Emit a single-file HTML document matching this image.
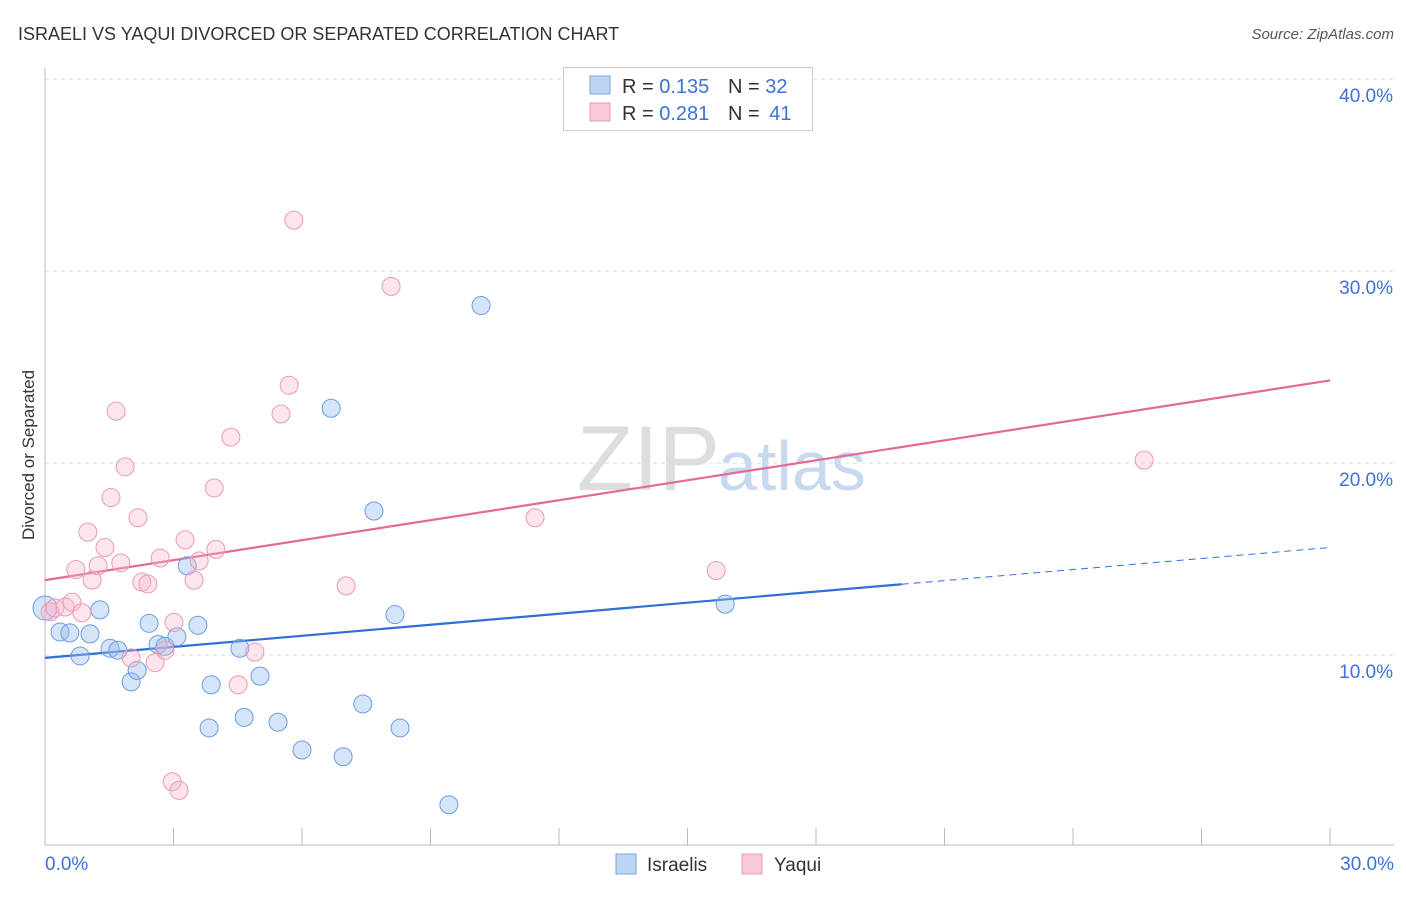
<!DOCTYPE html>
<html><head><meta charset="utf-8"><style>
body{margin:0;background:#fff;font-family:"Liberation Sans",sans-serif}
svg text{font-family:"Liberation Sans",sans-serif}
</style></head><body>
<svg id="c" width="1406" height="892">
<text x="18" y="40" font-size="18" fill="#333">ISRAELI VS YAQUI DIVORCED OR SEPARATED CORRELATION CHART</text>
<text x="1394" y="39" font-size="15" fill="#555" font-style="italic" text-anchor="end">Source: ZipAtlas.com</text>
<text x="720" y="490" font-size="92" fill="#ddd" text-anchor="end" font-family="Liberation Serif">ZIP</text>
<text x="718" y="490" font-size="70" fill="#c8d9ef">atlas</text>
<text transform="translate(34,455) rotate(-90)" font-size="17" fill="#333" text-anchor="middle">Divorced or Separated</text>
<g id="grid"></g><g id="trend"></g><g id="pts"></g>
<g>
<rect x="563.5" y="67.5" width="249" height="63" fill="#fff" stroke="#ccc"/>
<rect x="590" y="76" width="20" height="18" fill="#bcd5f5" stroke="#7aa6e0"/>
<text x="622" y="93" font-size="20" fill="#333">R = <tspan fill="#3a72d8">0.135</tspan></text>
<text x="728" y="93" font-size="20" fill="#333">N = <tspan fill="#3a72d8">32</tspan></text>
<rect x="590" y="103" width="20" height="18" fill="#fac8d8" stroke="#e89ab4"/>
<text x="622" y="120" font-size="20" fill="#333">R = <tspan fill="#3a72d8">0.281</tspan></text>
<text x="728" y="120" font-size="20" fill="#333">N = <tspan dx="4" fill="#3a72d8">41</tspan></text>
</g>
<g>
<rect x="616" y="854" width="20" height="20" fill="#bcd5f5" stroke="#7aa6e0"/>
<text x="647" y="871" font-size="19" fill="#333">Israelis</text>
<rect x="742" y="854" width="20" height="20" fill="#fac8d8" stroke="#e89ab4"/>
<text x="774" y="871" font-size="19" fill="#333">Yaqui</text>
</g>
</svg>
<script>
const yTicks=[10,20,30,40];
const yTickLabels=["10.0%","20.0%","30.0%","40.0%"];
const xTickLabels=["0.0%","30.0%"];
const israeliX=[0.0,0.35,0.58,0.82,1.05,1.28,1.52,1.70,2.01,2.15,2.43,2.64,2.80,3.08,3.32,3.57,3.88,3.83,4.55,4.65,5.02,5.44,6.0,6.68,6.96,7.42,7.68,8.17,8.29,9.43,10.18,15.88];
const israeliY=[12.45,11.2,11.15,9.95,11.1,12.35,10.35,10.25,8.6,9.2,11.65,10.55,10.45,10.95,14.65,11.55,8.45,6.2,10.35,6.75,8.9,6.5,5.05,22.85,4.7,7.45,17.5,12.1,6.2,2.2,28.2,12.65];
const yaquiX=[0.12,0.23,0.47,0.63,0.72,0.86,1.0,1.1,1.24,1.4,1.54,1.66,1.77,1.87,2.01,2.17,2.26,2.4,2.57,2.69,2.8,3.01,2.97,3.13,3.27,3.48,3.6,3.95,3.99,4.34,4.51,4.9,5.51,5.7,5.81,7.03,8.08,11.44,15.67,25.66];
const yaquiY=[12.25,12.45,12.5,12.75,14.45,12.2,16.4,13.9,14.65,15.6,18.2,22.7,14.8,19.8,9.85,17.15,13.8,13.7,9.6,15.05,10.25,11.7,3.4,2.95,16.0,13.9,14.9,18.7,15.5,21.35,8.45,10.15,22.55,24.05,32.65,13.6,29.2,17.15,14.4,20.15];
const israeliTrend=[9.85,15.6];
const yaquiTrend=[13.9,24.3];
const israeliSolidEnd=20.0;
const NS="http://www.w3.org/2000/svg";
const X=v=>45+v*1285/30, Y=v=>655-(v-10)*19.2;
function mk(t,a,p){const e=document.createElementNS(NS,t);for(const k in a)e.setAttribute(k,a[k]);p.appendChild(e);return e;}
const grid=document.getElementById('grid');
yTicks.forEach((t,i)=>{
 const l=mk('line',{x1:45,x2:1394,y1:Y(t),y2:Y(t),stroke:'#ddd','stroke-dasharray':'4,4'},grid);
 
 
 const tx=mk('text',{x:1393,y:Y(t)+23,'font-size':19,fill:'#3a72d8','text-anchor':'end'},grid);
 tx.textContent=yTickLabels[i];
 
 
});
const ax=mk('line',{x1:45,x2:45,y1:68,y2:845,stroke:'#bbb'},grid);


const bx=mk('line',{x1:45,x2:1394,y1:845,y2:845,stroke:'#bbb'},grid);


for(let k=0;k<=10;k++){const tk=mk('line',{x1:X(k*3),x2:X(k*3),y1:828,y2:845,stroke:'#bbb'},grid);
 
 }
[[0,'start',45],[30,'end',1394]].forEach((d,i)=>{const t=mk('text',{x:d[2],y:870,'font-size':19,fill:'#3a72d8','text-anchor':d[1]},grid);t.textContent=xTickLabels[i];
 
 });
const tr=document.getElementById('trend');
const bY=x=>israeliTrend[0]+(israeliTrend[1]-israeliTrend[0])*x/30;
let l1=mk('line',{x1:X(0),y1:Y(israeliTrend[0]),x2:X(israeliSolidEnd),y2:Y(bY(israeliSolidEnd)),stroke:'#2f6fd8','stroke-width':2.2},tr);


let l2=mk('line',{x1:X(israeliSolidEnd),y1:Y(bY(israeliSolidEnd)),x2:X(30),y2:Y(israeliTrend[1]),stroke:'#2f6fd8','stroke-width':1,'stroke-dasharray':'7,5'},tr);


let l3=mk('line',{x1:X(0),y1:Y(yaquiTrend[0]),x2:X(30),y2:Y(yaquiTrend[1]),stroke:'#e46a94','stroke-width':2.2},tr);


const pts=document.getElementById('pts');
israeliX.forEach((x,i)=>{const c=mk('circle',{cx:X(x),cy:Y(israeliY[i]),r:i==0?12:9,fill:'rgba(150,188,238,0.4)',stroke:'#6b9de0','stroke-width':1},pts);
 
 });
yaquiX.forEach((x,i)=>{const c=mk('circle',{cx:X(x),cy:Y(yaquiY[i]),r:9,fill:'rgba(247,180,202,0.35)',stroke:'#e99ab5','stroke-width':1},pts);
 
 });
</script>
</body></html>
